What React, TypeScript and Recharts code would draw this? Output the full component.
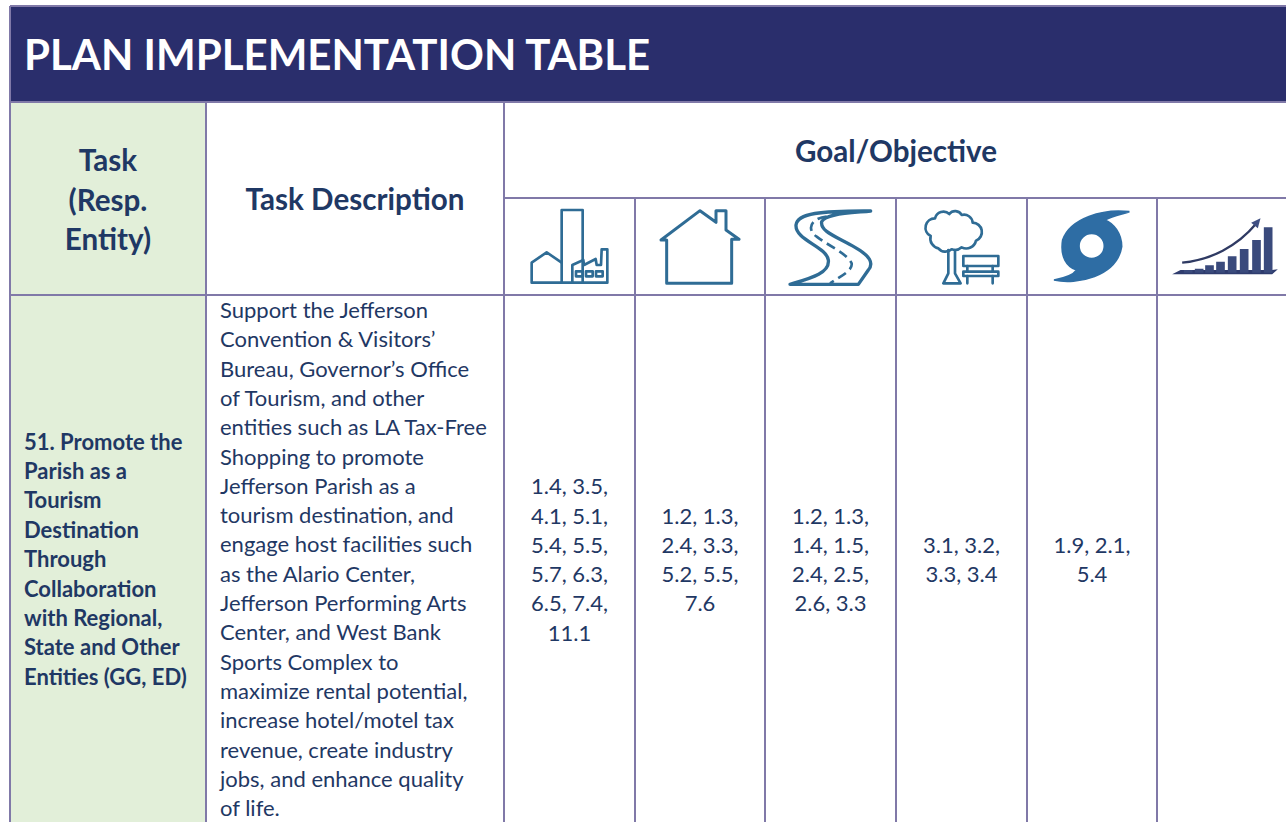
import React from "react";
import { ScatterChart, Scatter, XAxis, YAxis, ReferenceArea, ReferenceLine } from "recharts";

const titleText = "PLAN IMPLEMENTATION TABLE";
const taskHeaderLines = ["Task", "(Resp.", "Entity)"];
const descHeader = "Task Description";
const goalHeader = "Goal/Objective";
const taskLines = ["51. Promote the", "Parish as a", "Tourism", "Destination", "Through", "Collaboration", "with Regional,", "State and Other", "Entities (GG, ED)"];
const descLines = [
  "Support the Jefferson", "Convention & Visitors’", "Bureau, Governor’s Office", "of Tourism, and other",
  "entities such as LA Tax-Free", "Shopping to promote", "Jefferson Parish as a", "tourism destination, and",
  "engage host facilities such", "as the Alario Center,", "Jefferson Performing Arts", "Center, and West Bank",
  "Sports Complex to", "maximize rental potential,", "increase hotel/motel tax", "revenue, create industry",
  "jobs, and enhance quality", "of life.",
];
const goalCells = [
  ["1.4, 3.5,", "4.1, 5.1,", "5.4, 5.5,", "5.7, 6.3,", "6.5, 7.4,", "11.1"],
  ["1.2, 1.3,", "2.4, 3.3,", "5.2, 5.5,", "7.6"],
  ["1.2, 1.3,", "1.4, 1.5,", "2.4, 2.5,", "2.6, 3.3"],
  ["3.1, 3.2,", "3.3, 3.4"],
  ["1.9, 2.1,", "5.4"],
  [],
];
const iconNames = ["industry", "house", "road", "park", "storm", "growth"];

const W = 1286, H = 822;
const edges = [10, 206, 504, 635, 765, 896, 1027, 1157];
const LINE = "#8079A8", NAVY = "#2A2E6C", GREEN = "#E2EFD9", INK = "#1F3864", ICON = "#2F6C95";
const STEP = 29.3;
const FONT = "Lato, sans-serif";

type T = { x: number; y: number; text: string; size: number; weight: number; anchor: string; fill: string };

const texts: T[] = [
  { x: 24, y: 70, text: titleText, size: 42, weight: 700, anchor: "start", fill: "#FFFFFF" },
  ...taskHeaderLines.map((text, i) => ({ x: 108, y: 171 + i * 39.5, text, size: 29.6, weight: 700, anchor: "middle", fill: INK })),
  { x: 355, y: 210, text: descHeader, size: 29.6, weight: 700, anchor: "middle", fill: INK },
  { x: 896, y: 162, text: goalHeader, size: 29.6, weight: 700, anchor: "middle", fill: INK },
  ...taskLines.map((text, i) => ({ x: 24, y: 449.5 + i * 29.4, text, size: 22, weight: 700, anchor: "start", fill: INK })),
  ...descLines.map((text, i) => ({ x: 220, y: 318 + i * STEP, text, size: 22, weight: 400, anchor: "start", fill: INK })),
  ...goalCells.flatMap((cell, c) =>
    cell.map((text, i) => ({
      x: (edges[c + 2] + (edges[c + 3] ?? 1288)) / 2,
      y: 567.5 + (i - (cell.length - 1) / 2) * STEP,
      text, size: 22, weight: 400, anchor: "middle", fill: INK,
    }))
  ),
];

const iconPoints = iconNames.map((name, c) => ({ x: (edges[c + 2] + (edges[c + 3] ?? 1288)) / 2, y: 246, name }));

const textShape = (p: any) => {
  const d: T = p.payload;
  return (
    <text x={p.cx} y={p.cy} textAnchor={d.anchor as any} fontFamily={FONT} fontSize={d.size} fontWeight={d.weight} fill={d.fill}>
      {d.text}
    </text>
  );
};

const s = { fill: "none", stroke: ICON, strokeWidth: 8, strokeLinejoin: "round" as const, strokeLinecap: "round" as const };

const iconArt: Record<string, { ox: number; art: React.ReactNode }> = {
  industry: {
    ox: 208.5,
    art: (
      <g {...s}>
        <path d="M185 278V60H248V278" />
        <path d="M185 278H95V218L140 187L185 218" />
        <path d="M217 278V225L250 210L252 225L287 207L290 225H303L305 178H322V278H185" />
        <path d="M228 244h20v15h-20zM258 244h20v15h-20zM288 244h20v15h-20z" />
      </g>
    ),
  },
  house: {
    ox: 600,
    art: <path {...s} strokeWidth={9} d="M500 280V150H483L600 62L648 97V62H678V120L717 148H695V280Z" />,
  },
  road: {
    ox: 991.5,
    art: (
      <g {...s} strokeWidth={10}>
        <path d="M870 283C930 265 990 250 985 210C980 170 885 150 888 105C892 70 960 62 1112 63C1040 70 975 72 965 95C960 125 1010 140 1065 172C1110 197 1122 220 1105 240L1075 283Z" />
        <path strokeWidth={8} strokeDasharray="28 16" strokeLinecap="butt" d="M980 80C930 85 920 120 950 140C990 170 1040 190 1055 220C1058 240 1030 255 990 280" />
      </g>
    ),
  },
  park: {
    ox: 214.5,
    art: (
      <g {...s}>
        <path d="M145 175A30 30 0 0 1 122 138A28 28 0 0 1 135 85A26 26 0 0 1 178 72A22 22 0 0 1 215 75A26 26 0 0 1 248 98A28 28 0 0 1 258 152A30 30 0 0 1 215 172A30 30 0 0 1 185 178A28 28 0 0 1 145 175Z" />
        <path d="M175 180V250L160 280H212L195 250V180" />
        <path d="M220 198H325V228H220ZM220 245H325V258H220Z" />
        <path d="M232 228V245M232 258V280M308 228V245M308 258V280" />
      </g>
    ),
  },
  storm: {
    ox: 606,
    art: (
      <path
        fill="#2E6DA4"
        stroke="#2E6DA4"
        strokeWidth={5}
        fillRule="evenodd"
        d="M718 65C640 55 540 85 518 150C510 200 530 230 560 240C550 255 520 265 492 270C560 285 680 260 695 170C695 130 670 100 645 90C670 75 700 72 718 65ZM605 130A38 38 0 1 0 605 206A38 38 0 1 0 605 130Z"
      />
    ),
  },
  growth: {
    ox: 996,
    art: (
      <g>
        <path fill="#2F3C6E" d="M845 253L870 240H1145L1162 238L1145 253Z" />
        <path fill="#3A4A7C" d="M880 240h26v8h-26zM913 236h26v12h-26zM944 226h26v22h-26zM977 215h26v33h-26zM1012 199h26v49h-26zM1048 177h26v71h-26zM1085 150h26v98h-26zM1120 112h26v136h-26z" />
        <path fill="none" stroke="#2F3A63" strokeWidth={7} d="M875 218C960 210 1040 170 1098 100" />
        <path fill="#3F4F82" d="M1110 85L1102 115L1082 98Z" />
      </g>
    ),
  },
};

const iconShape = (p: any) => {
  const { ox, art } = iconArt[p.payload.name];
  return <g transform={`translate(${p.cx} ${p.cy}) scale(${1 / 3}) translate(${-ox} -168)`}>{art}</g>;
};

const bar = (x1: number, x2: number, y1: number, y2: number, fill: string) => (
  <ReferenceArea key={`${x1}-${y1}-${fill}`} x1={x1} x2={x2} y1={y1} y2={y2} fill={fill} fillOpacity={1} stroke="none" ifOverflow="visible" />
);
const vLine = (x: number, y1: number, y2: number) => (
  <ReferenceLine key={`v${x}-${y1}`} segment={[{ x, y: y1 }, { x, y: y2 }]} stroke={LINE} strokeWidth={2} ifOverflow="visible" />
);
const hLine = (y: number, x1: number, x2: number) => (
  <ReferenceLine key={`h${y}`} segment={[{ x: x1, y }, { x: x2, y }]} stroke={LINE} strokeWidth={2} ifOverflow="visible" />
);

export default function App() {
  return (
    <div style={{ position: "absolute", left: 0, top: 0, width: W, height: H, overflow: "hidden", background: "#fff" }}>
      <ScatterChart width={W} height={H} margin={{ top: 0, right: 0, bottom: 0, left: 0 }}>
        <XAxis type="number" dataKey="x" domain={[0, W]} hide allowDataOverflow />
        <YAxis type="number" dataKey="y" domain={[0, H]} reversed hide allowDataOverflow />
        {bar(10, W, 6, 102, NAVY)}
        {bar(10, 206, 102, H, GREEN)}
        {hLine(6, 10, W)}
        {hLine(102, 10, W)}
        {hLine(198, 504, W)}
        {hLine(295, 10, W)}
        {edges.map((x, i) => (i < 1 ? vLine(x, 6, H) : vLine(x, i < 3 ? 102 : 198, H)))}
        <Scatter data={iconPoints} shape={iconShape} isAnimationActive={false} />
        <Scatter data={texts} shape={textShape} isAnimationActive={false} />
      </ScatterChart>
    </div>
  );
}
